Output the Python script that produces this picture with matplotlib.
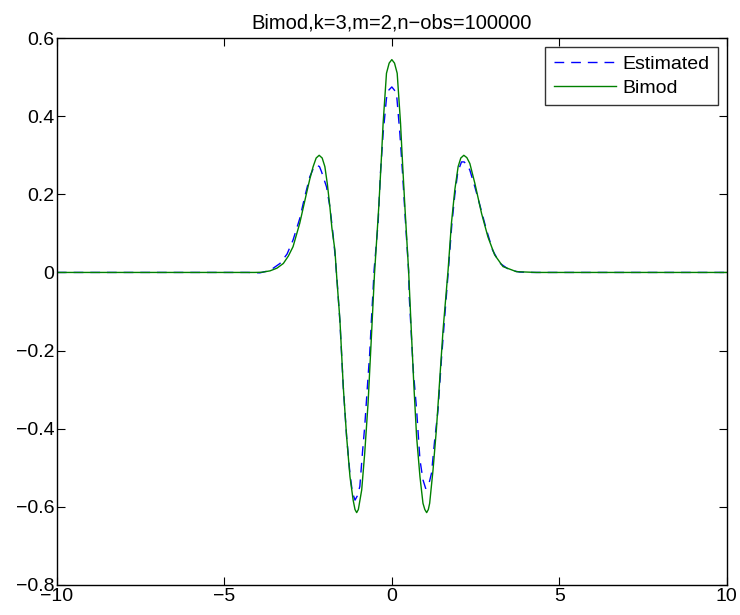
import matplotlib
matplotlib.use("Agg")
import matplotlib.pyplot as plt

plt.rcParams['font.family'] = ['Liberation Sans', 'DejaVu Sans']

title = "Bimod,k=3,m=2,n\u2212obs=100000"

# Bimod (solid green)
bimod_x = [-10, -6, -4.5, -4.09, -3.88, -3.64, -3.43, -3.24, -3.09, -2.95, -2.75, -2.55,
           -2.45, -2.35, -2.26, -2.17, -2.08, -2.00, -1.925, -1.85, -1.79, -1.70, -1.64,
           -1.55, -1.45, -1.35, -1.25, -1.155, -1.10, -1.05, -1.00, -0.90, -0.81, -0.71,
           -0.61, -0.52, -0.39, -0.31, -0.26, -0.16, -0.08, 0.0,
           0.08, 0.16, 0.26, 0.31, 0.39, 0.50, 0.59, 0.66, 0.74, 0.84, 0.93, 0.985, 1.04,
           1.09, 1.13, 1.23, 1.33, 1.43, 1.53, 1.68, 1.78, 1.88, 1.98, 2.06, 2.15, 2.24,
           2.33, 2.48, 2.68, 2.87, 3.07, 3.32, 3.72, 4.32, 6, 10]
bimod_y = [0, 0, 0, 0, 0.0005, 0.004, 0.011, 0.023, 0.042, 0.066, 0.126, 0.202,
           0.239, 0.271, 0.293, 0.300, 0.293, 0.271, 0.226, 0.168, 0.114, 0.057, -0.019,
           -0.122, -0.293, -0.421, -0.523, -0.583, -0.607, -0.615, -0.607, -0.557, -0.463, -0.335,
           -0.165, -0.007, 0.168, 0.296, 0.382, 0.510, 0.536, 0.545,
           0.536, 0.510, 0.382, 0.296, 0.168, 0.006, -0.165, -0.293, -0.421, -0.523, -0.591, -0.607, -0.615,
           -0.607, -0.591, -0.506, -0.403, -0.275, -0.147, 0.006, 0.126, 0.211, 0.271, 0.293, 0.300, 0.294,
           0.279, 0.228, 0.151, 0.091, 0.045, 0.015, 0.002, 0, 0, 0]

# Estimated (dashed blue)
est_x = [-10, -6, -4.3, -3.94, -3.64, -3.34, -3.13, -2.95, -2.75, -2.60, -2.45, -2.34,
         -2.25, -2.16, -2.10, -1.95, -1.85, -1.77, -1.70, -1.63, -1.55, -1.45, -1.35,
         -1.25, -1.18, -1.10, -1.03, -0.955, -0.875, -0.81, -0.71, -0.66, -0.61, -0.56,
         -0.53, -0.41, -0.34, -0.26, -0.16, -0.09, 0.0,
         0.075, 0.14, 0.24, 0.32, 0.41, 0.50, 0.52, 0.64, 0.74, 0.84, 0.93, 1.01, 1.10,
         1.185, 1.28, 1.38, 1.48, 1.58, 1.65, 1.70, 1.79, 1.88, 1.97, 2.08, 2.16, 2.25,
         2.33, 2.48, 2.63, 2.81, 3.01, 3.22, 3.52, 3.82, 4.21, 6, 10]
est_y = [0, 0, 0, -0.001, 0.005, 0.023, 0.047, 0.083, 0.138, 0.194, 0.245, 0.267,
         0.275, 0.271, 0.258, 0.219, 0.168, 0.109, 0.049, -0.027, -0.127, -0.293, -0.421,
         -0.516, -0.562, -0.583, -0.572, -0.548, -0.459, -0.395, -0.267, -0.207, -0.122, -0.045,
         0.006, 0.126, 0.254, 0.356, 0.446, 0.467, 0.475,
         0.467, 0.458, 0.356, 0.254, 0.126, 0.006, -0.062, -0.250, -0.352, -0.480, -0.531, -0.553, -0.544,
         -0.514, -0.429, -0.352, -0.224, -0.113, -0.037, 0.019, 0.121, 0.198, 0.257, 0.283, 0.283, 0.275,
         0.262, 0.219, 0.172, 0.114, 0.057, 0.024, 0.006, 0.001, 0, 0, 0]

x_ticks = [-10, -5, 0, 5, 10]
y_ticks = [-0.8, -0.6, -0.4, -0.2, 0, 0.2, 0.4, 0.6]
y_labels = ["\u22120.8", "\u22120.6", "\u22120.4", "\u22120.2", "0", "0.2", "0.4", "0.6"]
x_labels = ["\u221210", "\u22125", "0", "5", "10"]

fig = plt.figure(figsize=(7.4, 6.15), dpi=100)
ax = fig.add_axes([0.077, 0.049, 0.905, 0.889])

ax.plot(est_x, est_y, color='#0000ff', lw=1.0, linestyle=(0, (7, 5)), label='Estimated')
ax.plot(bimod_x, bimod_y, color='#008000', lw=1.0, label='Bimod')

ax.set_xlim(-10, 10)
ax.set_ylim(-0.8, 0.6)
ax.set_xticks(x_ticks)
ax.set_xticklabels(x_labels)
ax.set_yticks(y_ticks)
ax.set_yticklabels(y_labels)
ax.tick_params(direction='in', length=6, width=0.8, labelsize=14, top=True, right=True, pad=2)
for s in ax.spines.values():
    s.set_linewidth(1.0)

ax.set_title(title, fontsize=14.5, pad=7)

leg = ax.legend(loc='upper right', fontsize=14, frameon=True, fancybox=False,
                edgecolor='black', handlelength=3.2, handletextpad=0.3,
                borderaxespad=0.45, borderpad=0.45, labelspacing=0.3)
leg.get_frame().set_linewidth(1.0)

fig.savefig('out.png', dpi=100)
